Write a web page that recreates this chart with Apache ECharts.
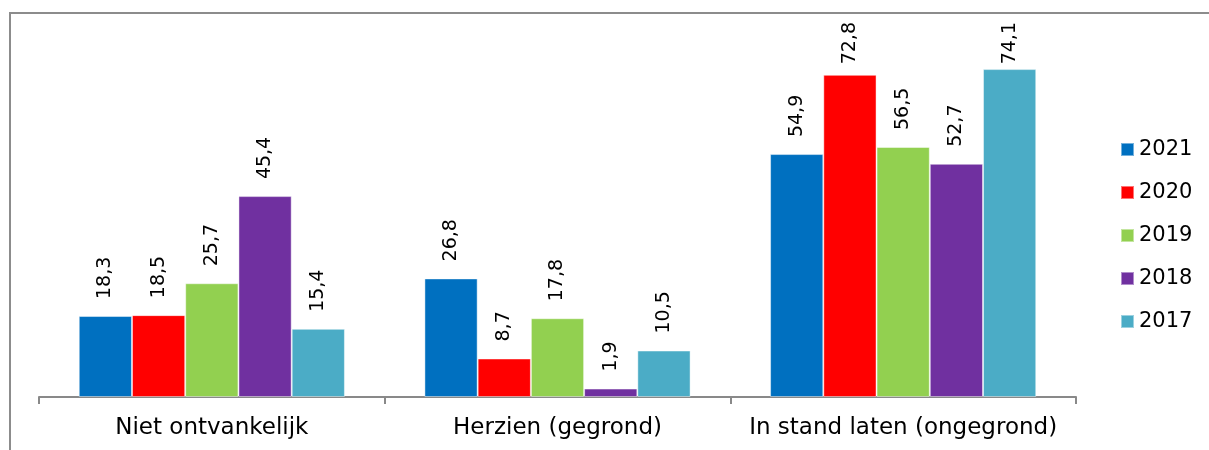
<!DOCTYPE html>
<html>
<head>
<meta charset="utf-8">
<script src="https://cdn.jsdelivr.net/npm/echarts@6/dist/echarts.min.js"></script>
<style>html,body{margin:0;padding:0;background:#fff;}#c{width:1209px;height:450px;}</style>
</head>
<body>
<div id="c"></div>
<script>
var categories = ['Niet ontvankelijk', 'Herzien (gegrond)', 'In stand laten (ongegrond)'];
var seriesNames = ['2021', '2020', '2019', '2018', '2017'];
var v2021 = [18.3, 26.8, 54.9];
var v2020 = [18.5, 8.7, 72.8];
var v2019 = [25.7, 17.8, 56.5];
var v2018 = [45.4, 1.9, 52.7];
var v2017 = [15.4, 10.5, 74.1];
var colors = ['#0070C0', '#FF0000', '#92D050', '#7030A0', '#4BACC6'];

var values = [v2021, v2020, v2019, v2018, v2017];
var FONT = 'DejaVu Sans';
var LABEL_SIZE = 19;
var LABEL_DIST = 17;
var LABEL_TOP_LIMIT = 22;
function fmt(v) { return v.toFixed(1).replace('.', ','); }

var chart = echarts.init(document.getElementById('c'));
function buildSeries(distances) {
  return seriesNames.map(function (n, i) {
    return {
      name: n, type: 'bar', barGap: '0%', barCategoryGap: '23%',
      data: values[i].map(function (v, j) {
        var item = { value: v };
        if (distances) item.label = { distance: distances[i][j] };
        return item;
      }),
      itemStyle: { color: colors[i], borderColor: 'rgba(255,255,255,0.45)', borderWidth: 1 },
      label: {
        show: true, position: 'top', rotate: 90, distance: LABEL_DIST,
        align: 'left', verticalAlign: 'middle',
        fontSize: LABEL_SIZE, color: '#000', fontFamily: FONT,
        formatter: function (p) { return fmt(p.value); }
      }
    };
  });
}
chart.setOption({
  animation: false,
  textStyle: { fontFamily: FONT },
  graphic: [{
    type: 'rect', shape: { x: 10, y: 13, width: 2000, height: 1000 },
    style: { fill: 'none', stroke: '#8c8c8c', lineWidth: 2 }, silent: true
  }],
  legend: {
    orient: 'vertical', left: 1115, top: 134, itemGap: 22,
    itemWidth: 13, itemHeight: 13, icon: 'rect',
    textStyle: { fontSize: 21, color: '#000', fontFamily: FONT }
  },
  grid: { left: 39, right: 133, top: 43, bottom: 53 },
  xAxis: {
    type: 'category', data: categories,
    axisLine: { lineStyle: { color: '#898989', width: 2 } },
    axisTick: { show: true, length: 7, lineStyle: { color: '#898989', width: 2 } },
    axisLabel: { fontSize: 23, color: '#000', margin: 20, interval: 0, fontFamily: FONT }
  },
  yAxis: { type: 'value', min: 0, max: 80, show: false, splitLine: { show: false } },
  series: buildSeries(null)
});

// clamp labels so they stay below the top limit (as in the original chart)
var ctx = document.createElement('canvas').getContext('2d');
ctx.font = LABEL_SIZE + 'px "' + FONT + '"';
var distances = values.map(function (arr) {
  return arr.map(function (v) {
    var py = chart.convertToPixel({ yAxisIndex: 0 }, v);
    var len = ctx.measureText(fmt(v)).width;
    return Math.max(2, Math.min(LABEL_DIST, py - LABEL_TOP_LIMIT - len));
  });
});
chart.setOption({ series: buildSeries(distances) });
</script>
</body>
</html>
